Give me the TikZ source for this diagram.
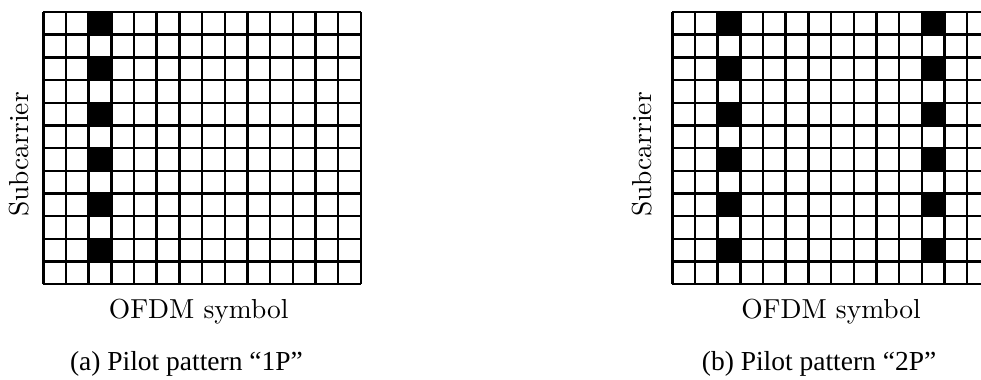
\documentclass[tikz,border=0pt]{standalone}
\usepackage{fontspec}
\newfontfamily\capfont[Ligatures=TeX]{Liberation Serif}
\usepackage{tikz}
\usetikzlibrary{positioning}

\begin{document}
\begin{tikzpicture}[
  x=0.29cm,y=0.29cm,
  font=\fontsize{10}{12}\selectfont,
  gridline/.style={draw=black,line width=0.9pt},
  pilot/.style={fill=black},
  axislabel/.style={inner sep=0pt},
  captext/.style={font=\capfont\fontsize{10}{12}\selectfont,inner sep=0pt,anchor=base}
]
\useasboundingbox (-1.91,-4.18) rectangle (41.34,12.53);
\clip (-1.91,-4.18) rectangle (41.34,12.53);
% (a) one pilot column
\foreach \j in {1,3,...,11}
  \fill[pilot] (2,\j) rectangle (3,\j+1);
\foreach \i in {0,...,14}
  \draw[gridline] (\i,0) -- (\i,12);
\foreach \j in {0,...,12}
  \draw[gridline] (0,\j) -- (14,\j);
\node[axislabel,rotate=90] (subA) at (-1.07,5.72) {Subcarrier};
\node[axislabel,anchor=base] (ofdmA) at (6.85,-1.5) {OFDM symbol};
\node[captext] (capA) at (6.31,-3.82) {(a) Pilot pattern “1P”};
% (b) two pilot columns
\begin{scope}[shift={(27.73,0)}]
\foreach \c in {2,11}
  \foreach \j in {1,3,...,11}
    \fill[pilot] (\c,\j) rectangle (\c+1,\j+1);
\foreach \i in {0,...,14}
  \draw[gridline] (\i,0) -- (\i,12);
\foreach \j in {0,...,12}
  \draw[gridline] (0,\j) -- (14,\j);
\node[axislabel,rotate=90] (subB) at (-1.34,5.72) {Subcarrier};
\node[axislabel,anchor=base] (ofdmB) at (7,-1.5) {OFDM symbol};
\node[captext] (capB) at (6.47,-3.82) {(b) Pilot pattern “2P”};
\end{scope}
\end{tikzpicture}
\end{document}
